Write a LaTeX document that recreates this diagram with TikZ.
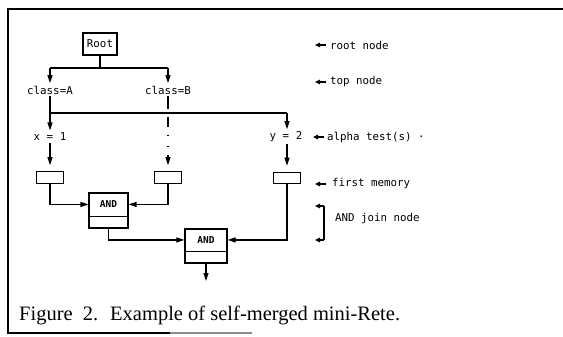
\documentclass[tikz,border=0pt]{standalone}
\usepackage{fontspec}
\newfontfamily\diagfont{DejaVu Sans Mono}
\newfontfamily\capfont{Liberation Serif}
\usetikzlibrary{arrows.meta}
\begin{document}
\begin{tikzpicture}[x=1pt,y=-1pt,
  wire/.style={line width=1.1pt},
  arr/.style={wire,-{Triangle[length=8pt,width=5pt]}},
  smallarr/.style={wire,-{Triangle[length=5pt,width=4.5pt]}},
  lbl/.style={font=\diagfont\fontsize{10.8}{12}\selectfont,inner sep=1.5pt},
  note/.style={lbl,anchor=west,inner sep=0pt},
  andtext/.style={font=\diagfont\bfseries\fontsize{9.5}{10}\selectfont,inner sep=0pt},
  membox/.style={draw,line width=1.1pt,minimum width=27pt,minimum height=11.5pt,inner sep=0pt},
  andbox/.style={draw,line width=1.1pt,inner sep=0pt},
  frame/.style={line width=1.4pt},
  captext/.style={anchor=base west,inner sep=0pt,font=\capfont\fontsize{20.5}{24}\selectfont}
]
\useasboundingbox (0,0) rectangle (563,337);

% frame (open on the right)
\draw[frame] (563,9) -- (8,9) -- (8,333) -- (170,333);
\draw[frame,black!45] (170,333) -- (252,333);

% root and top nodes
\node[draw,line width=1.5pt,minimum width=34pt,minimum height=22pt,lbl] (root) at (100,44) {Root};
\node[lbl] (classA) at (50,90) {class=A};
\node[lbl] (classB) at (168,90) {class=B};
\coordinate (tA) at (50,68);
\coordinate (tB) at (168,68);
\draw[wire] (root.south) -- (root.south |- tA);
\draw[wire] (tA) -- (tB);
\draw[arr,shorten >=1pt] (tA) -- (classA.north);
\draw[arr,shorten >=1pt] (tB) -- (classB.north);

% alpha tests
\node[lbl] (x1) at (50,137) {x = 1};
\node[lbl] (y2) at (286,137) {y = 2};
\coordinate (aA) at (50,113);
\coordinate (aY) at (287,113);
\draw[arr,shorten >=1pt] (classA.south) -- (x1.north);
\draw[wire] (aA) -- (aY);
\draw[arr,shorten >=1pt] (aY) -- (aY |- y2.north);

% first memories
\node[membox] (mem1) at (50,177.5) {};
\node[membox] (mem2) at (168,177.5) {};
\node[membox] (mem3) at (287,178) {};
\draw[arr,shorten >=6pt] (x1.south) -- (mem1.north);
\draw[arr,shorten >=6pt] (aY |- y2.south) -- (mem3.north);
\draw[arr,shorten >=6pt,
  dash pattern=on 13pt off 8pt on 10pt off 8pt on 1.5pt off 9.5pt on 1.5pt off 8pt on 40pt]
  (classB.south) -- (mem2.north);

% AND join nodes
\node[andbox,minimum width=39pt,minimum height=35pt] (and1) at (108.5,210.5) {};
\draw[wire] ([yshift=-24pt]and1.north west) -- ([yshift=-24pt]and1.north east);
\node[andtext] (and1t) at ([yshift=-12pt]and1.north) {AND};

\node[andbox,minimum width=42pt,minimum height=34pt] (and2) at (206,246) {};
\draw[wire] ([yshift=-23pt]and2.north west) -- ([yshift=-23pt]and2.north east);
\node[andtext] (and2t) at ([yshift=-11.5pt]and2.north) {AND};

\draw[arr] (mem1.south) |- (and1.west |- and1t);
\draw[arr] (mem2.south) |- (and1.east |- and1t);
\draw[arr] (and1.south) |- (and2.west |- and2t);
\draw[arr] (mem3.south) |- (and2.east |- and2t);
\coordinate (out) at (206,281);
\draw[arr] (and2.south) -- (out);

% annotations
\node[note] (nroot) at (330,45) {root node};
\node[note] (ntop) at (330,82) {top node};
\node[note] (nalpha) at (327,137) {alpha test(s) ·};
\node[note] (nmem) at (332,184) {first memory};
\node[note] (njoin) at (335,219) {AND join node};
\draw[smallarr] ([xshift=-4pt]nroot.west) -- ++(-11pt,0);
\draw[smallarr] ([xshift=-4pt]ntop.west) -- ++(-11pt,0);
\draw[smallarr] ([xshift=-3pt]nalpha.west) -- ++(-11pt,0);
\draw[smallarr] ([xshift=-6pt]nmem.west) -- ++(-11pt,0);
\coordinate (bt) at (324,206);
\coordinate (bb) at (324,240);
\draw[wire] (bt) -- (bb);
\draw[smallarr] (bt) -- ++(-9pt,0);
\draw[smallarr] (bb) -- ++(-9pt,0);

% caption
\node[captext] (fig) at (19,320) {Figure\ \ 2.};
\node[captext] (cap) at (110,320) {Example of self-merged mini-Rete.};
\end{tikzpicture}
\end{document}
